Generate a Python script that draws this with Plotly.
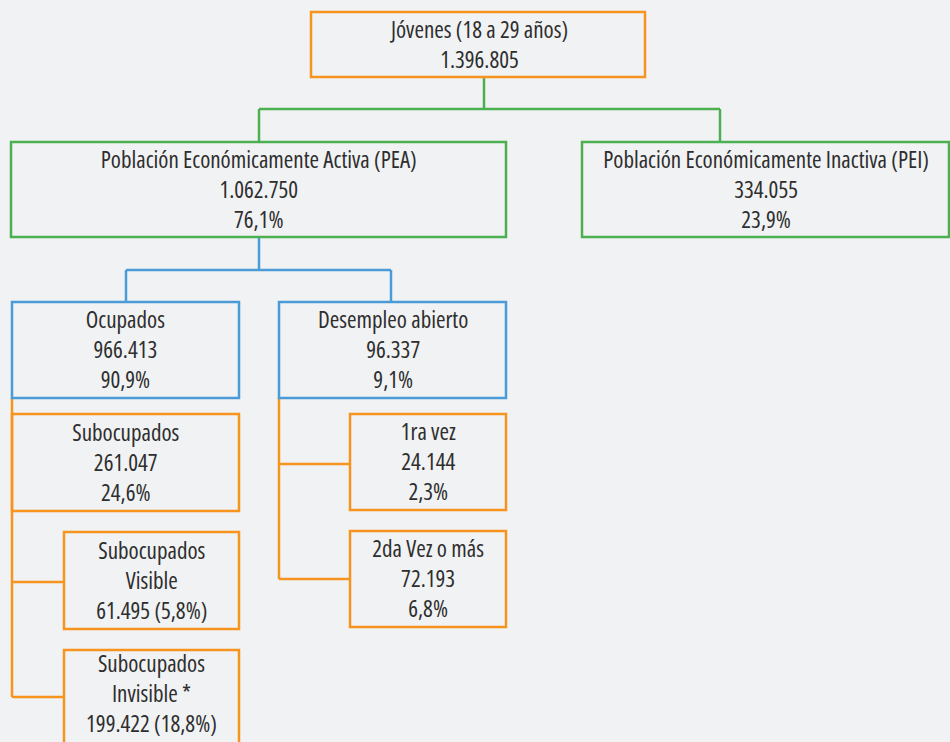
import plotly.graph_objects as go

# ---- data ----
node_ids = ["root", "pea", "pei", "ocu", "des", "sub", "vis", "inv", "v1", "v2"]
node_titles = [
    ["Jóvenes (18 a 29 años)"],
    ["Población Económicamente Activa (PEA)"],
    ["Población Económicamente Inactiva (PEI)"],
    ["Ocupados"],
    ["Desempleo abierto"],
    ["Subocupados"],
    ["Subocupados", "Visible"],
    ["Subocupados", "Invisible *"],
    ["1ra vez"],
    ["2da Vez o más"],
]
node_values = [1396805, 1062750, 334055, 966413, 96337, 261047, 61495, 199422, 24144, 72193]
node_pcts = [None, 76.1, 23.9, 90.9, 9.1, 24.6, 5.8, 18.8, 2.3, 6.8]
inline_pct = [False, False, False, False, False, False, True, True, False, False]

# ---- layout (pixel geometry of the diagram) ----
W, H = 950, 742
ORANGE = "#f7941d"
GREEN = "#4cb050"
BLUE = "#4a9bd6"
TEXT = "#2e2e2e"
BG = "#f1f2f4"
FONT = "Open Sans, Roboto, sans-serif"
FSIZE = 23

boxes = {
    "root": (311, 12, 645, 77, ORANGE),
    "pea": (11, 142, 506, 237, GREEN),
    "pei": (582, 142, 949, 237, GREEN),
    "ocu": (12, 302, 239, 398, BLUE),
    "des": (279, 302, 506, 398, BLUE),
    "sub": (12, 414, 239, 511, ORANGE),
    "vis": (64, 532, 239, 629, ORANGE),
    "inv": (64, 650, 239, 748, ORANGE),
    "v1": (350, 414, 506, 510, ORANGE),
    "v2": (350, 531, 506, 627, ORANGE),
}
connectors = [
    ([484, 484], [77, 109], GREEN),
    ([259, 720], [109, 109], GREEN),
    ([259, 259], [109, 142], GREEN),
    ([720, 720], [109, 142], GREEN),
    ([259, 259], [237, 270], BLUE),
    ([126, 391], [270, 270], BLUE),
    ([126, 126], [270, 302], BLUE),
    ([391, 391], [270, 302], BLUE),
    ([12, 12], [398, 697], ORANGE),
    ([12, 64], [582, 582], ORANGE),
    ([12, 64], [697, 697], ORANGE),
    ([279, 279], [398, 579], ORANGE),
    ([279, 350], [464, 464], ORANGE),
    ([279, 350], [579, 579], ORANGE),
]


def fmt_int(v):
    return f"{v:,}".replace(",", ".")


def fmt_pct(p):
    return f"{p:.1f}".replace(".", ",") + "%"


fig = go.Figure()
shapes = []
for xs, ys, col in connectors:
    shapes.append(dict(type="line", x0=xs[0], x1=xs[1], y0=ys[0], y1=ys[1],
                       xref="x", yref="y", line=dict(color=col, width=2.5), layer="above"))
for nid in node_ids:
    x0, y0, x1, y1, col = boxes[nid]
    shapes.append(dict(type="rect", x0=x0, x1=x1, y0=y0, y1=y1, xref="x", yref="y",
                       line=dict(color=col, width=2.5), fillcolor="rgba(0,0,0,0)", layer="above"))

annotations = []
for nid, title, val, pct, inl in zip(node_ids, node_titles, node_values, node_pcts, inline_pct):
    x0, y0, x1, y1, col = boxes[nid]
    lines = list(title)
    if pct is None:
        lines.append(fmt_int(val))
    elif inl:
        lines.append(f"{fmt_int(val)} ({fmt_pct(pct)})")
    else:
        lines += [fmt_int(val), fmt_pct(pct)]
    yc, yanc = (y0 + y1) / 2 - 1, "middle"
    if nid == "inv":
        yc, yanc = H - 1, "bottom"
    annotations.append(dict(x=(x0 + x1) / 2, y=yc,
                            xref="x", yref="y", text="<br>".join(lines), showarrow=False,
                            align="center", xanchor="center", yanchor=yanc,
                            font=dict(size=FSIZE, color=TEXT, family=FONT)))

fig.update_layout(
    width=W, height=H,
    margin=dict(l=0, r=0, t=0, b=0),
    paper_bgcolor=BG, plot_bgcolor=BG,
    xaxis=dict(range=[0, W], visible=False, fixedrange=True),
    yaxis=dict(range=[H, 0], visible=False, fixedrange=True),
    shapes=shapes, annotations=annotations, showlegend=False,
)
post = (
    "document.body.style.margin='0';document.body.style.background='%s';"
    "var st=document.createElement('style');"
    "st.textContent='.annotation-text{font-stretch:75%% !important;}';"
    "document.head.appendChild(st);" % BG
)
fig.write_html("out.html", post_script=post, config={"displayModeBar": False})
